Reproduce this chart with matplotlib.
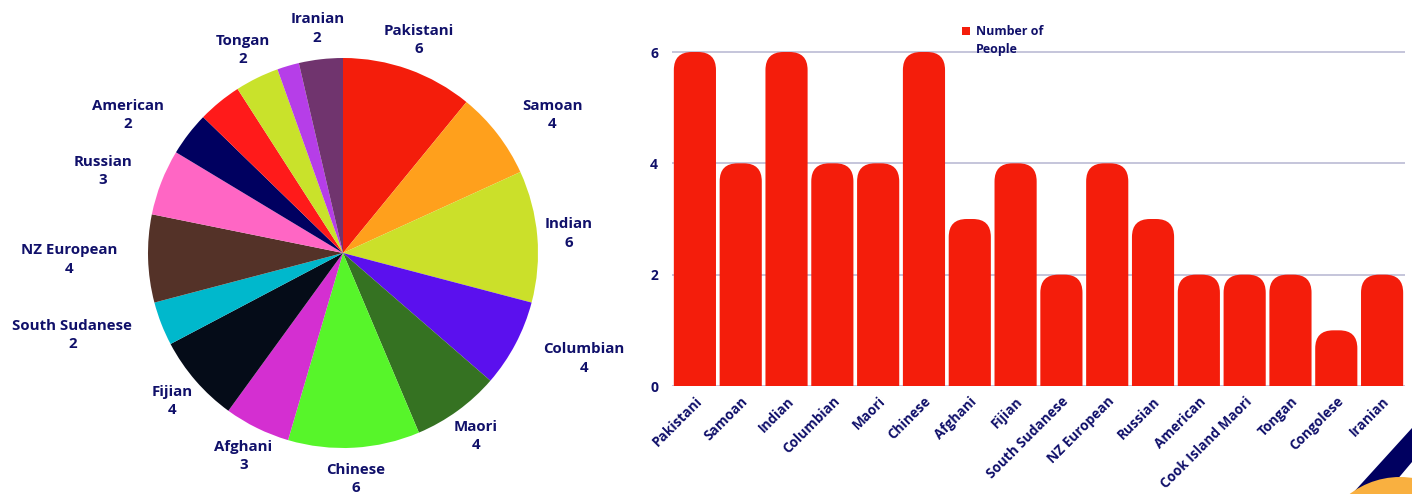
import numpy as np
import matplotlib
matplotlib.use("Agg")
import matplotlib.pyplot as plt
from matplotlib.patches import FancyBboxPatch, Rectangle, Polygon, Ellipse

# ---------------- data ----------------
categories = ["Pakistani", "Samoan", "Indian", "Columbian", "Maori", "Chinese",
              "Afghani", "Fijian", "South Sudanese", "NZ European", "Russian",
              "American", "Cook Island Maori", "Tongan", "Congolese", "Iranian"]
people = [6, 4, 6, 4, 4, 6, 3, 4, 2, 4, 3, 2, 2, 2, 1, 2]
pie_hidden_labels = ["Cook Island Maori", "Congolese"]
y_ticks = [0, 2, 4, 6]
legend_label = "Number of\nPeople"

pie_colors = ["#F41D0B", "#FFA01C", "#CBE02A", "#5B10EE", "#357222", "#57F52A",
              "#D42FD1", "#050C18", "#00B8CC", "#543228", "#FF66C4", "#000060",
              "#FF1A1A", "#C9E22B", "#B63EE8", "#70346E"]
bar_color = "#F41D0B"
text_color = "#10106A"
grid_color = "#BBBBD4"

plt.rcParams['font.family'] = ['Open Sans', 'DejaVu Sans']

W, H = 1412, 494
fig = plt.figure(figsize=(W / 100, H / 100), dpi=100)

# ---------------- pie ----------------
cx, cy, R = 343, 253, 195
pax = fig.add_axes([(cx - R) / W, (H - cy - R) / H, 2 * R / W, 2 * R / H])
wedges, _ = pax.pie(people, colors=pie_colors, startangle=90, counterclock=False,
                    wedgeprops=dict(linewidth=0))
pax.set_xlim(-1, 1)
pax.set_ylim(-1, 1)
pax.set_aspect('equal')
pax.axis('off')

lab_r = 1.16
for w, cat, val in zip(wedges, categories, people):
    if cat in pie_hidden_labels:
        continue
    mid = np.deg2rad((w.theta1 + w.theta2) / 2)
    c, s = np.cos(mid), np.sin(mid)
    if 0.7 < c < 0.95:
        ha = 'left'
    elif c < -0.77:
        ha = 'right'
    else:
        ha = 'center'
    pax.text(lab_r * c, lab_r * s, f"{cat}\n{val}", ha=ha, va='center',
             multialignment='center', fontsize=10.8, fontweight='bold',
             color=text_color, linespacing=1.42, clip_on=False)

# ---------------- bars ----------------
x0_px, x1_px = 672, 1405
y0_px, y6_px = 386, 52
ytop = 6.05
unit_px = (y0_px - y6_px) / 6
bax = fig.add_axes([x0_px / W, (H - y0_px) / H, (x1_px - x0_px) / W,
                    unit_px * ytop / H])
x = np.arange(len(categories))
bw = 0.92
bars = bax.bar(x, people, width=bw, color=bar_color, linewidth=0)
bax.set_xlim(-0.5, len(categories) - 0.5)
bax.set_ylim(0, ytop)

slot_px = (x1_px - x0_px) / len(categories)
aspect = (1 / unit_px) / (1 / slot_px)
r_px = 18
for b in bars:
    bx, bwid, bh = b.get_x(), b.get_width(), b.get_height()
    b.set_visible(False)
    p = FancyBboxPatch((bx, -0.5), bwid, bh + 0.5,
                       boxstyle=f"round,pad=0,rounding_size={r_px / slot_px}",
                       mutation_aspect=aspect, facecolor=bar_color,
                       edgecolor='none', zorder=3)
    bax.add_patch(p)

bax.set_yticks(y_ticks)
bax.yaxis.grid(True, color=grid_color, linewidth=1.2)
bax.set_axisbelow(True)
for sp in bax.spines.values():
    sp.set_visible(False)
bax.tick_params(axis='y', length=0, pad=10, labelcolor=text_color, labelsize=10)
bax.tick_params(axis='x', length=0, pad=6, labelcolor=text_color, labelsize=9.8)
for t in bax.get_yticklabels():
    t.set_fontweight('bold')
bax.set_xticks(x)
bax.set_xticklabels(categories, rotation=45, ha='right', rotation_mode='anchor',
                    fontweight='bold')

# legend (manual)
fig.patches.append(Rectangle((962 / W, 1 - 35 / H), 8 / W, 8 / H,
                             transform=fig.transFigure, facecolor=bar_color,
                             edgecolor='none'))
fig.text(976 / W, 1 - 25 / H, legend_label, ha='left', va='top', fontsize=9,
         fontweight='bold', color=text_color, linespacing=1.5)

# corner decoration
fig.patches.append(Polygon([(1412 / W, 1 - 428 / H), (1412 / W, 1 - 462 / H),
                            (1385 / W, 0), (1352 / W, 0)], closed=True,
                           transform=fig.transFigure, facecolor="#000060",
                           edgecolor='none'))
fig.patches.append(Ellipse((1400 / W, 1 - 560 / H), 166 / W, 166 / H,
                           transform=fig.transFigure, facecolor="#F9B040",
                           edgecolor='none'))

fig.savefig("out.png", dpi=100)
